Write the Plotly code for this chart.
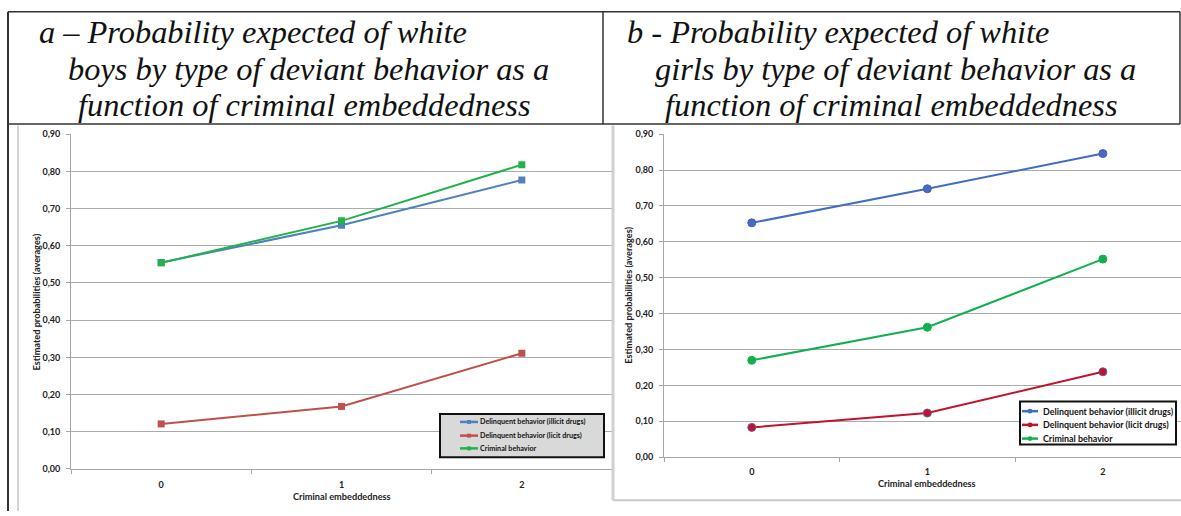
import plotly.graph_objects as go

W, H = 1181, 516

# ---- data -------------------------------------------------------------
embeddedness = [0, 1, 2]
series_names = [
    "Delinquent behavior (illicit drugs)",
    "Delinquent behavior (licit drugs)",
    "Criminal behavior",
]

boys_illicit = [0.555, 0.655, 0.777]
boys_licit = [0.121, 0.168, 0.311]
boys_criminal = [0.554, 0.667, 0.818]

girls_illicit = [0.653, 0.748, 0.846]
girls_licit = [0.083, 0.123, 0.238]
girls_criminal = [0.270, 0.362, 0.552]

y_ticks = [0.0, 0.1, 0.2, 0.3, 0.4, 0.5, 0.6, 0.7, 0.8, 0.9]

boys_colors = ["#4F81BD", "#C0504D", "#22B24A"]
girls_colors = ["#3F6EC2", "#C0142C", "#12B04E"]

title_a = [
    "a – Probability expected of white",
    "boys by type of deviant behavior as a",
    "function of criminal embeddedness",
]
title_b = [
    "b - Probability expected of white",
    "girls by type of deviant behavior as a",
    "function of criminal embeddedness",
]


def px(x):
    return x / W


def py(y):
    return 1 - y / H


fig = go.Figure()

# ---- traces -----------------------------------------------------------
for name, vals, col in zip(series_names, [boys_illicit, boys_licit, boys_criminal], boys_colors):
    fig.add_trace(go.Scatter(
        x=embeddedness, y=vals, name=name, mode="lines+markers",
        line=dict(color=col, width=2),
        marker=dict(symbol="square", size=7, color=col),
        xaxis="x", yaxis="y", showlegend=False,
    ))

girls_outline = ["#5A55A8", "#5C5F9E", "#12B04E"]
for name, vals, col, oc in zip(series_names, [girls_illicit, girls_licit, girls_criminal], girls_colors, girls_outline):
    fig.add_trace(go.Scatter(
        x=embeddedness, y=vals, name=name, mode="lines+markers",
        line=dict(color=col, width=2),
        marker=dict(symbol="circle", size=8, color=col, line=dict(color=oc, width=1)),
        xaxis="x2", yaxis="y2", showlegend=False,
    ))

tick_font = dict(family="Lato", size=9, color="#222222", weight="bold")
grid_col = "#ABABAB"

common_y = dict(
    range=[0, 0.9], tickvals=y_ticks, tickformat=".2f",
    showgrid=True, gridcolor=grid_col, gridwidth=1,
    showline=True, linecolor="#A6A6A6", linewidth=1,
    ticks="outside", ticklen=4, tickcolor="#A6A6A6",
    tickfont=tick_font, zeroline=False, fixedrange=True,
    ticklabelstandoff=4,
)
common_x = dict(
    tickvals=embeddedness, showgrid=False, zeroline=False,
    showline=True, linecolor="#A6A6A6", linewidth=1,
    ticks="", tickfont=tick_font, fixedrange=True,
    minor=dict(tickmode="array", tickvals=[-0.5, 0.5, 1.5, 2.5],
               ticks="outside", ticklen=4, tickcolor="#A6A6A6"),
)

fig.update_layout(
    width=W, height=H,
    margin=dict(l=0, r=0, t=0, b=0),
    paper_bgcolor="white", plot_bgcolor="white",
    separators=", ",
    showlegend=False,
    xaxis=dict(domain=[px(71), px(612)], range=[-0.5, 2.5], anchor="y",
               ticklabelstandoff=7, **common_x),
    yaxis=dict(domain=[py(473), py(131)], anchor="x", **common_y),
    xaxis2=dict(domain=[px(664), px(1181)], range=[-0.5, 2.445], anchor="y2",
                ticklabelstandoff=6, **common_x),
    yaxis2=dict(domain=[py(461), py(131)], anchor="x2", **common_y),
)

shapes = []
ann = []

# ---- frame lines ------------------------------------------------------
dark = "#333333"
def pline(x0, y0, x1, y1, color, width):
    shapes.append(dict(type="line", xref="paper", yref="paper",
                       x0=px(x0), y0=py(y0), x1=px(x1), y1=py(y1),
                       line=dict(color=color, width=width), layer="above"))

pline(8, 6, 1180, 6, dark, 1.5)
pline(8, 120.5, 1180, 120.5, dark, 1.5)
pline(8, 6, 8, 516, dark, 2)
pline(603, 6, 603, 120.5, dark, 1.5)
pline(1180, 6, 1180, 120.5, dark, 1.5)
pline(18, 122, 18, 516, "#D4D4D4", 2)
pline(613, 122, 613, 505, "#D0D0D0", 3)
pline(613, 505, 1181, 505, "#C8C8C8", 2)

# ---- header titles ----------------------------------------------------
title_font = dict(family="Liberation Serif, Times New Roman, serif", size=32.4, color="#111111")
for lines, xs in [(title_a, [37, 66, 76]), (title_b, [625, 653, 663])]:
    for text, x0, yc in zip(lines, xs, [27, 64, 101]):
        ann.append(dict(text="<i>" + text + "</i>", x=px(x0), y=py(yc),
                        xref="paper", yref="paper", xanchor="left", yanchor="middle",
                        showarrow=False, font=title_font))

# ---- axis titles ------------------------------------------------------
axis_font = dict(family="Lato", size=9.2, color="#222222", weight="bold")
ann.append(dict(text="Estimated probabilities (averages)", x=px(37), y=py(303),
                xref="paper", yref="paper", textangle=-90, showarrow=False,
                xanchor="center", yanchor="middle", font=axis_font))
ann.append(dict(text="Estimated probabilities (averages)", x=px(629), y=py(296),
                xref="paper", yref="paper", textangle=-90, showarrow=False,
                xanchor="center", yanchor="middle", font=axis_font))
ann.append(dict(text="Criminal embeddedness", x=px(342), y=py(501),
                xref="paper", yref="paper", showarrow=False,
                xanchor="center", yanchor="middle", font=axis_font))
ann.append(dict(text="Criminal embeddedness", x=px(927), y=py(488),
                xref="paper", yref="paper", showarrow=False,
                xanchor="center", yanchor="middle", font=axis_font))


# ---- legends ----------------------------------------------------------
def legend(box, fill, line_x, text_x, ys, colors, symbol, msize, font):
    x0, y0, x1, y1 = box
    shapes.append(dict(type="rect", xref="paper", yref="paper",
                       x0=px(x0), y0=py(y0), x1=px(x1), y1=py(y1),
                       fillcolor=fill, line=dict(color="#111111", width=2), layer="above"))
    for name, col, yy in zip(series_names, colors, ys):
        shapes.append(dict(type="line", xref="paper", yref="paper",
                           x0=px(line_x[0]), x1=px(line_x[1]), y0=py(yy), y1=py(yy),
                           line=dict(color=col, width=2.5), layer="above"))
        cx = (line_x[0] + line_x[1]) / 2
        r = msize / 2
        shapes.append(dict(type=symbol, xref="paper", yref="paper",
                           x0=px(cx - r), x1=px(cx + r), y0=py(yy - r), y1=py(yy + r),
                           fillcolor=col, line=dict(width=0), layer="above"))
        ann.append(dict(text=name, x=px(text_x), y=py(yy), xref="paper", yref="paper",
                        xanchor="left", yanchor="middle", showarrow=False, font=font))


legend((440, 417, 604, 461), "#D9D9D9", (460, 478), 478, [425, 439, 452],
       boys_colors, "rect", 4,
       dict(family="Lato", size=7.2, color="#111111", weight="bold"))
legend((1020, 404, 1176, 448), "white", (1022, 1038), 1041, [414, 428, 442],
       girls_colors, "circle", 5,
       dict(family="Lato", size=8.9, color="#111111", weight="bold"))

fig.update_layout(shapes=shapes, annotations=ann)
fig.write_html("out.html")
